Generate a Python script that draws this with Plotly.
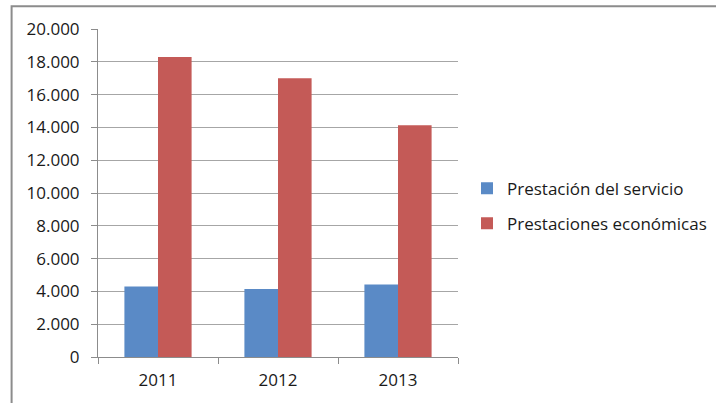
import plotly.graph_objects as go

years = ["2011", "2012", "2013"]
servicio = [4300, 4150, 4420]
economicas = [18290, 17000, 14130]
series_names = ["Prestación del servicio", "Prestaciones económicas"]
tick_vals = [0, 2000, 4000, 6000, 8000, 10000, 12000, 14000, 16000, 18000, 20000]

FONT = "'Open Sans', Lato, sans-serif"

fig = go.Figure()
fig.add_trace(go.Bar(x=years, y=servicio, name=series_names[0],
                     marker=dict(color="#5A8AC6", line=dict(width=0)),
                     legendgroup="a"))
fig.add_trace(go.Bar(x=years, y=economicas, name=series_names[1],
                     marker=dict(color="#C45A57", line=dict(width=0)),
                     legendgroup="b"))

fig.update_layout(
    width=716, height=403,
    margin=dict(l=98, r=258, t=29, b=46, pad=0, autoexpand=False),
    paper_bgcolor="white", plot_bgcolor="white",
    barmode="group", bargap=0.44, bargroupgap=0,
    separators=",.",
    font=dict(family=FONT, size=17, color="#1a1a1a"),
    legend=dict(x=1.025, y=0.46, xanchor="left", yanchor="middle",
                traceorder="grouped", tracegroupgap=10,
                font=dict(size=17, family=FONT, color="#1a1a1a"),
                bgcolor="rgba(0,0,0,0)"),
    showlegend=True,
    xaxis=dict(type="category", showgrid=False, showline=True,
               linecolor="#8c8c8c", linewidth=1,
               ticks="outside", tickson="boundaries", ticklen=6,
               tickcolor="#8c8c8c", tickfont=dict(size=17),
               ticklabelstandoff=8),
    yaxis=dict(range=[0, 20000], tickvals=tick_vals, tickformat=",d",
               showgrid=True, gridcolor="#a6a6a6", gridwidth=1,
               showline=True, linecolor="#8c8c8c", linewidth=1,
               ticks="outside", ticklen=6, tickcolor="#8c8c8c",
               zeroline=False, tickfont=dict(size=17),
               ticklabelstandoff=8),
    shapes=[dict(type="rect", xref="paper", yref="paper",
                 x0=-0.240, x1=1.75, y0=1.0697, y1=-0.2,
                 line=dict(color="#8c8c8c", width=2),
                 fillcolor="rgba(0,0,0,0)", layer="below")],
)

fig.write_html("out.html", config={"displayModeBar": False},
               post_script="document.body.style.margin='0';document.body.style.overflow='hidden';")
